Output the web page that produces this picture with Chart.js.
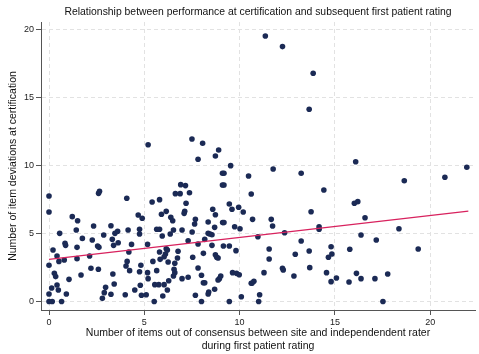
<!DOCTYPE html>
<html>
<head>
<meta charset="utf-8">
<script src="https://cdn.jsdelivr.net/npm/chart.js@4.4.0/dist/chart.umd.min.js"></script>
<style>
  html, body { margin: 0; padding: 0; background: #fff; }
  canvas { display: block; }
</style>
</head>
<body>
<canvas id="chart" width="479" height="354"></canvas>
<script>
// Items out of consensus at first patient rating (x)
const ratingItems = [
  0, 0, 0, 0, 0, 0.17, 0.14, 0.21, 0.28, 0.35, 0.42, 0.42, 0.49, 0.52, 0.56, 0.66, 0.8, 0.84, 0.87, 0.91,
  1.05, 1.22, 1.43, 1.47, 1.5, 1.47, 1.68, 1.75, 2.13, 2.2, 2.27, 2.34, 2.55, 2.62, 2.6, 2.65, 2.59, 2.8, 2.87, 2.9,
  2.97, 3.25, 3.25, 3.32, 3.35, 3.39, 3.42, 3.46, 3.6, 3.63, 4.0, 4.08, 4.04, 4.1, 4.15, 4.19, 4.23, 4.33, 4.5, 4.68,
  4.75, 4.75, 4.79, 4.82, 4.89, 4.75, 4.85, 5.1, 5.17, 5.2, 5.17,
  7.82, 8.73, 9.53, 9.1, 9.18, 10.47, 9.1, 9.18, 6.91, 7.16, 6.63, 6.88, 7.37, 10.61, 5.41, 5.8, 7.19, 7.12, 7.09, 6.15,
  5.9, 6.39, 6.49, 7.68, 7.64, 8.59, 8.73, 9.46, 9.6, 9.95, 10.19, 10.68, 8.35, 9.11, 9.18, 9.74, 10.02, 8.69, 5.65, 5.8,
  6.53, 6.98, 7.51, 6.36, 5.94, 8.35, 8.45, 8.55, 8.17, 7.3, 7.82, 8.55, 9.15, 9.46, 9.81, 6.15, 6.21, 5.8, 6.77, 6.11,
  6.04, 5.83, 8.1, 8.73, 8.8, 8.87, 7.54, 6.74, 5.45, 6.25, 6.6, 7.82, 5.65, 6.56, 6.6, 6.53, 8.0, 9.01, 8.94, 8.87,
  9.63, 9.84, 9.98, 6.98, 7.3, 6.28, 8.1, 8.17, 10.61, 5.55, 5.76, 6.04, 8.69, 6.21, 8.38, 8.35, 5.97, 7.68, 10.09, 11.05,
  5.52, 8.0, 9.46, 11.0,
  16.09, 11.76, 13.23, 14.42, 13.75, 16.02, 16.2, 11.66, 11.73, 16.58, 14.17, 14.17, 10.96, 12.36, 16.37, 13.23, 11.55, 13.65, 14.8, 14.84,
  14.66, 15.78, 12.92, 11.55, 13.68, 12.25, 12.29, 11.28, 14.56, 16.13, 12.85, 15.08, 16.37, 10.65, 10.75, 14.8, 15.74,
  21.92, 20.77, 18.64, 18.36, 17.17, 19.37, 17.1, 17.77, 17.52,
  5.2, 7.5, 8.06, 8.9, 11.35, 12.25, 13.86, 13.65
];

// Item deviations at certification (y)
const certDeviations = [
  7.76, 6.58, 2.66, 0.55, 0, 0, 0.99, 3.79, 2.07, 1.83, 3.34, 1.21, 0.85, 2.95, 5.01, 0, 3.05, 4.28, 4.13, 0.55,
  1.63, 6.24, 5.26, 3.98, 5.94, 3.15, 1.95, 4.64, 3.34, 2.44, 4.52, 5.55, 4.08, 3.98, 7.95, 8.1, 2.37, 0.23, 4.89, 0.65,
  1.04, 0.53, 5.57, 4.57, 2.02, 4.13, 1.29, 5.01, 5.16, 4.32, 0.5, 7.59, 2.61, 2.95, 5.26, 3.64, 2.27, 4.2, 0.85, 6.36,
  5.31, 4.96, 1.19, 2.66, 6.12, 2.19, 0.46, 0.5, 2.12, 1.68, 4.2,
  10.46, 10.7, 9.99, 9.43, 9.43, 9.23, 8.57, 8.57, 8.59, 8.52, 7.93, 7.93, 8.0, 7.9, 7.32, 7.49, 7.22, 6.63, 6.48, 6.63,
  6.41, 6.19, 5.94, 6.04, 5.7, 6.78, 6.38, 7.17, 6.78, 6.93, 6.58, 6.04, 5.85, 5.8, 5.8, 5.5, 5.35, 5.45, 5.31, 5.31,
  5.26, 5.26, 5.11, 4.96, 4.82, 5.01, 4.96, 4.91, 4.57, 4.47, 4.23, 4.13, 4.08, 4.08, 3.74, 3.88, 3.79, 3.64, 3.69, 3.49,
  3.29, 3.1, 3.54, 3.44, 3.25, 3.2, 3.25, 3.2, 2.95, 2.9, 2.81, 2.46, 2.27, 2.37, 2.12, 1.88, 1.93, 1.88, 1.68, 1.58,
  2.12, 2.07, 1.97, 1.68, 1.78, 1.53, 1.38, 1.38, 1.34, 1.24, 1.24, 1.24, 0.9, 0.85, 0.7, 0.55, 0.4, 0.46, 0.35, 0.5,
  0, 0, 0, 0,
  10.28, 9.74, 9.43, 8.2, 6.6, 7.22, 7.34, 6.04, 5.55, 6.16, 5.5, 5.31, 4.76, 5.06, 4.89, 4.45, 3.86, 3.71, 4.03, 3.49,
  3.25, 3.84, 3.47, 3.13, 2.49, 2.44, 2.32, 2.12, 2.12, 2.07, 1.88, 1.73, 1.68, 1.34, 1.49, 1.46, 1.43,
  9.87, 9.13, 8.88, 5.35, 4.52, 3.86, 1.68, 2.02, 0,
  11.53, 11.95, 11.63, 11.14, 19.52, 18.74, 16.78, 14.13
];

// Fitted regression line end points
const fitX = [0, 22];
const fitY = [3.1, 6.65];

const xTicks = [0, 5, 10, 15, 20];
const yTicks = [0, 5, 10, 15, 20];

const chartTitle = 'Relationship between performance at certification and subsequent first patient rating';
const xTitle = ['Number of items out of consensus between site and independendent rater', 'during first patient rating'];
const yTitle = 'Number of item deviations at certification';

const FONT = '"Liberation Sans", Arial, Helvetica, sans-serif';

const points = ratingItems.map((x, i) => ({ x: x, y: certDeviations[i] }));
const fitLine = fitX.map((x, i) => ({ x: x, y: fitY[i] }));

// title centred over the plot area, like the original
const plotTitle = {
  id: 'plotTitle',
  afterDraw(chart) {
    const { ctx, chartArea } = chart;
    ctx.save();
    ctx.font = '10.4px ' + FONT;
    ctx.fillStyle = '#111';
    ctx.textAlign = 'center';
    ctx.textBaseline = 'middle';
    ctx.fillText(chartTitle, (chartArea.left + chartArea.right) / 2, 12);
    ctx.restore();
  }
};

new Chart(document.getElementById('chart'), {
  type: 'scatter',
  data: {
    datasets: [
      {
        type: 'line',
        data: fitLine,
        borderColor: '#d8225e',
        borderWidth: 1.3,
        pointRadius: 0,
        fill: false,
        order: 0
      },
      {
        data: points,
        backgroundColor: '#1b2a55',
        borderWidth: 0,
        pointRadius: 2.8,
        order: 1
      }
    ]
  },
  options: {
    responsive: false,
    animation: false,
    layout: { padding: { left: 0, right: 3, top: 22, bottom: 0 } },
    plugins: {
      legend: { display: false },
      tooltip: { enabled: false }
    },
    scales: {
      x: {
        type: 'linear',
        min: -0.42,
        max: 22.35,
        afterBuildTicks: s => { s.ticks = xTicks.map(v => ({ value: v })); },
        afterFit: s => { s.height = 44; },
        ticks: { font: { size: 9, family: FONT }, color: '#222', padding: 2, maxRotation: 0 },
        grid: { color: '#e2e2e2', lineWidth: 1, tickLength: 5, tickColor: '#555' },
        border: { display: true, color: '#555', width: 1, dash: [4, 3] },
        title: {
          display: true,
          text: xTitle,
          font: { size: 10.5, family: FONT },
          color: '#111',
          padding: { top: 0, bottom: 2 }
        }
      },
      y: {
        type: 'linear',
        min: -0.625,
        max: 20.55,
        afterBuildTicks: s => { s.ticks = yTicks.map(v => ({ value: v })); },
        afterFit: s => { s.width = 41; },
        ticks: { font: { size: 9, family: FONT }, color: '#222', padding: 2 },
        grid: { color: '#e2e2e2', lineWidth: 1, tickLength: 5, tickColor: '#555' },
        border: { display: true, color: '#555', width: 1, dash: [4, 3] },
        title: {
          display: true,
          text: yTitle,
          font: { size: 10.5, family: FONT },
          color: '#111',
          padding: { top: 7, bottom: 0 }
        }
      }
    }
  },
  plugins: [plotTitle]
});
</script>
</body>
</html>
